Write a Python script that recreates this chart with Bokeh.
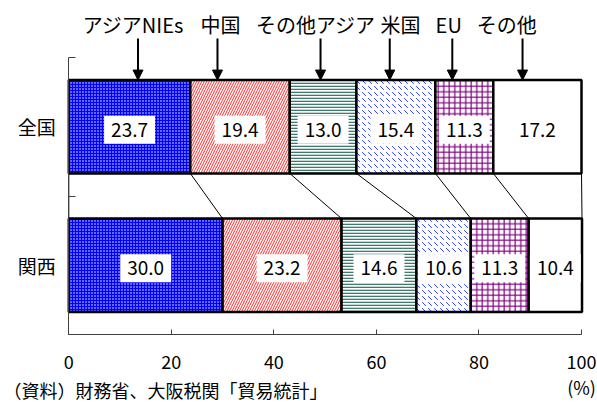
from bokeh.plotting import figure
from bokeh.models import Range1d, FixedTicker, ColumnDataSource, Arrow, NormalHead
from bokeh.core.properties import value
from bokeh.embed import file_html
from bokeh.resources import INLINE

# Export share by destination (%), 全国 vs 関西
regions = ["全国", "関西"]
destinations = ["アジアNIEs", "中国", "その他アジア", "米国", "EU", "その他"]
zenkoku = [23.7, 19.4, 13.0, 15.4, 11.3, 17.2]
kansai = [30.0, 23.2, 14.6, 10.6, 11.3, 10.4]
x_ticks = [0, 20, 40, 60, 80, 100]

# where the header pointers sit along the 全国 bar, and where their captions sit
pointer_at = [13.5, 29.0, 49.1, 62.6, 74.8, 88.5]
caption_at = [12.6, 29.6, 48.2, 64.7, 74.1, 85.4]

source_note = "（資料）財務省、大阪税関「貿易統計」"
unit_note = "(%)"

JP = "Noto Sans CJK JP"

# fill styles for each destination: (fill, hatch pattern, hatch colour, scale, weight)
styles = [
    ("#0000ff", ".", "white", 3.0, 1.4),
    ("white", "/", "#ff2a2a", 5.0, 1.0),
    ("white", "-", "#3f7a6c", 3.0, 1.6),
    ("white", "`", "#3344ff", 6.0, 1.0),
    ("white", "+", "#800080", 5.5, 1.2),
    ("white", None, None, 1.0, 1.0),
]

Y = {"全国": 1.0, "関西": 0.0}
BAR_H = 0.674

# canvas geometry: the value axis spans 68.3px..581px, the category band 57px..334px
W, H = 597, 403
SX = (581.0 - 68.3) / 100.0
SY = (334.0 - 57.0) / 2.0
X0 = -68.3 / SX
X1 = 100.0 + (W - 581.0) / SX
Y0 = -0.5 - (H - 334.0) / SY
Y1 = 1.5 + 57.0 / SY

def y_at(px):
    """data y for a pixel row on the canvas"""
    return 1.5 + (57.0 - px) / SY

def x_at(px):
    return (px - 68.3) / SX

p = figure(width=W, height=H, output_backend="svg", toolbar_location=None,
           x_range=Range1d(X0, X1), y_range=Range1d(Y0, Y1),
           min_border_left=0, min_border_right=0, min_border_top=0, min_border_bottom=0)
p.outline_line_color = None
p.grid.visible = False
p.background_fill_color = "white"
p.border_fill_color = "white"

def cumulate(vals):
    lefts, rights, acc = [], [], 0.0
    for v in vals:
        lefts.append(acc)
        acc += v
        rights.append(acc)
    return lefts, rights

zl, zr = cumulate(zenkoku)
kl, kr = cumulate(kansai)

for i, name in enumerate(destinations):
    fill, pat, hcol, hs, hw = styles[i]
    src = ColumnDataSource(dict(y=[Y["全国"], Y["関西"]], left=[zl[i], kl[i]], right=[zr[i], kr[i]],
                                mid=[(zl[i] + zr[i]) / 2, (kl[i] + kr[i]) / 2],
                                txt=[f"{zenkoku[i]:.1f}", f"{kansai[i]:.1f}"]))
    kw = dict(fill_color=fill, line_color="black", line_width=2.5)
    if pat:
        kw.update(hatch_pattern=pat, hatch_color=hcol, hatch_scale=hs, hatch_weight=hw)
    p.hbar(y="y", left="left", right="right", height=BAR_H, source=src, **kw)
    p.text(x="mid", y="y", text="txt", source=src, text_align="center", text_baseline="middle",
           text_font=value(JP), text_font_size="19px", text_color="black", y_offset=3,
           background_fill_color="white", padding=7)

# connecting lines between the two bars at each cumulative boundary
bx0 = [0.0] + zr
bx1 = [0.0] + kr
p.segment(x0=bx0, y0=[Y["全国"] - BAR_H / 2] * len(bx0), x1=bx1, y1=[Y["関西"] + BAR_H / 2] * len(bx1),
          line_color="black", line_width=1)

# header captions and pointers
top_bar = Y["全国"] + BAR_H / 2
p.text(x=caption_at, y=[y_at(23.5)] * len(caption_at), text=destinations, text_align="center",
       text_baseline="middle", text_font=value(JP), text_font_size="20px", text_color="black")
arrow_src = ColumnDataSource(dict(x0=pointer_at, y0=[y_at(38)] * len(pointer_at),
                                  x1=pointer_at, y1=[top_bar] * len(pointer_at)))
p.add_layout(Arrow(x_start="x0", y_start="y0", x_end="x1", y_end="y1", source=arrow_src,
                   line_width=2, line_color="black",
                   end=NormalHead(size=10, fill_color="black", line_color="black")))

# axes, pinned to the edges of the bar area
xa = p.xaxis[0]
xa.fixed_location = -0.5
xa.bounds = (0, 100)
xa.ticker = FixedTicker(ticks=x_ticks)
xa.major_tick_in = 5
xa.major_tick_out = 0
xa.minor_tick_line_color = None
xa.axis_line_color = "#404040"
xa.major_tick_line_color = "#404040"
xa.major_label_standoff = 20
xa.major_label_text_font = JP
xa.major_label_text_font_size = "18px"
xa.major_label_text_color = "black"

ya = p.yaxis[0]
ya.fixed_location = 0
ya.ticker = FixedTicker(ticks=[0, 1], minor_ticks=[-0.5, 0.5, 1.5])
ya.bounds = (-0.5, 1.5)
ya.major_tick_in = 0
ya.major_tick_out = 0
ya.minor_tick_in = 7
ya.minor_tick_out = 0
ya.axis_line_color = "#404040"
ya.minor_tick_line_color = "#404040"
ya.major_label_overrides = {1: regions[0], 0: regions[1]}
ya.major_label_standoff = 13
ya.major_label_text_font = JP
ya.major_label_text_font_size = "19px"
ya.major_label_text_color = "black"

# unit and source notes
p.text(x=[100], y=[y_at(386)], text=[unit_note], text_align="center", text_baseline="middle",
       text_font=value(JP), text_font_size="18px", text_color="black")
p.text(x=[x_at(3)], y=[y_at(389)], text=[source_note], text_align="left", text_baseline="middle",
       text_font=value(JP), text_font_size="18px", text_color="black")

open("out.html", "w").write(file_html(p, INLINE))
